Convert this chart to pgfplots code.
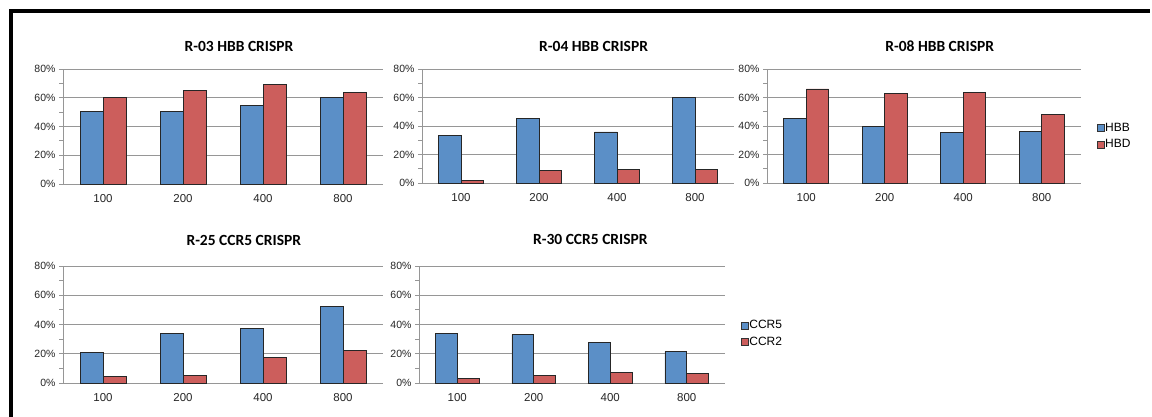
\documentclass[border=0pt]{standalone}
\usepackage{pgfplots}
\pgfplotsset{compat=1.18}
\usepackage{fontspec}
\setmainfont{Liberation Sans}
\newfontfamily\titlefont{Carlito}
\definecolor{barblue}{RGB}{91,143,199}
\definecolor{barred}{RGB}{204,94,92}
\definecolor{gridgray}{RGB}{150,150,150}
\pgfplotsset{
  excelbar/.style={
    scale only axis,
    xmin=0.5, xmax=4.5, ymin=0, ymax=80,
    axis x line*=bottom, axis y line*=left,
    axis line style={gridgray, line width=0.8bp},
    xtick={1,2,3,4}, xticklabels={100,200,400,800},
    x tick style={draw=none},
    ytick={0,20,40,60,80}, yticklabels={0\%,20\%,40\%,60\%,80\%},
    minor ytick={10,30,50,70},
    ymajorgrids, major grid style={gridgray, line width=0.8bp},
    tick align=outside, major tick length=4bp, minor tick length=4bp,
    y tick style={gridgray, line width=0.8bp},
    yticklabel style={font=\fontsize{10.5bp}{12bp}\selectfont, text=black!85},
    xticklabel style={font=\fontsize{11.5bp}{13bp}\selectfont, text=black!85, yshift=-3bp},
    ybar, bar width=0.2857,
    clip=false,
    title style={font=\titlefont\bfseries\fontsize{15.5bp}{18bp}\selectfont, anchor=center},
    legend style={draw=none, fill=none, anchor=west, inner sep=0pt,
      font=\fontsize{12bp}{14bp}\selectfont, row sep=5bp,
      nodes={inner sep=0.8bp}},
    legend cell align=left,
    legend image code/.code={\draw[#1, draw=black!80, line width=0.5bp] (0bp,-3.5bp) rectangle (7bp,3.5bp);},
  },
  b1/.style={fill=barblue, draw=black!85, line width=0.7bp, bar shift=-0.14286},
  b2/.style={fill=barred, draw=black!85, line width=0.7bp, bar shift=0.14286},
}
\begin{document}
\begin{tikzpicture}
\useasboundingbox (0bp,0bp) rectangle (1152bp,417bp);
\fill[white] (0bp,0bp) rectangle (1152bp,417bp);
\fill[black] (9bp,404bp) rectangle (1150bp,408bp);
\fill[black] (9bp,0bp) rectangle (13bp,408bp);

% R-03
\begin{axis}[excelbar, at={(63bp,233bp)}, anchor=south west, width=320bp, height=115bp,
  title={R-03 HBB CRISPR}, title style={at={(axis description cs:0.55,1)}, yshift=17bp}]
\addplot[b1] coordinates {(1,50.2) (2,50.2) (3,54.7) (4,60.1)};
\addplot[b2] coordinates {(1,60.2) (2,65.3) (3,69.3) (4,63.7)};
\end{axis}

% R-04
\begin{axis}[excelbar, at={(422bp,234bp)}, anchor=south west, width=312bp, height=114bp,
  title={R-04 HBB CRISPR}, title style={at={(axis description cs:0.55,1)}, yshift=17bp}]
\addplot[b1] coordinates {(1,33.2) (2,45.4) (3,35.8) (4,60.1)};
\addplot[b2] coordinates {(1,1.9) (2,8.7) (3,9.4) (4,9.8)};
\end{axis}

% R-08
\begin{axis}[excelbar, at={(767bp,234bp)}, anchor=south west, width=314bp, height=114bp,
  title={R-08 HBB CRISPR}, title style={at={(axis description cs:0.55,1)}, yshift=17bp},
  legend style={at={(1.05,0.41)}}]
\addplot[b1] coordinates {(1,45.6) (2,40.0) (3,35.3) (4,36.0)};
\addplot[b2] coordinates {(1,66.0) (2,62.6) (3,63.3) (4,48.1)};
\legend{HBB,HBD}
\end{axis}

% R-25
\begin{axis}[excelbar, at={(63bp,34bp)}, anchor=south west, width=320bp, height=117bp,
  title={R-25 CCR5 CRISPR}, title style={at={(axis description cs:0.565,1)}, yshift=20bp}]
\addplot[b1] coordinates {(1,20.8) (2,33.8) (3,37.3) (4,52.3)};
\addplot[b2] coordinates {(1,4.3) (2,5.0) (3,17.4) (4,22.2)};
\end{axis}

% R-30
\begin{axis}[excelbar, at={(419bp,34bp)}, anchor=south west, width=306bp, height=117bp,
  title={R-30 CCR5 CRISPR}, title style={at={(axis description cs:0.56,1)}, yshift=21bp},
  legend style={at={(1.052,0.423)}}]
\addplot[b1] coordinates {(1,33.8) (2,33.1) (3,27.9) (4,21.5)};
\addplot[b2] coordinates {(1,3.0) (2,5.0) (3,7.1) (4,6.4)};
\legend{CCR5,CCR2}
\end{axis}
\end{tikzpicture}
\end{document}
